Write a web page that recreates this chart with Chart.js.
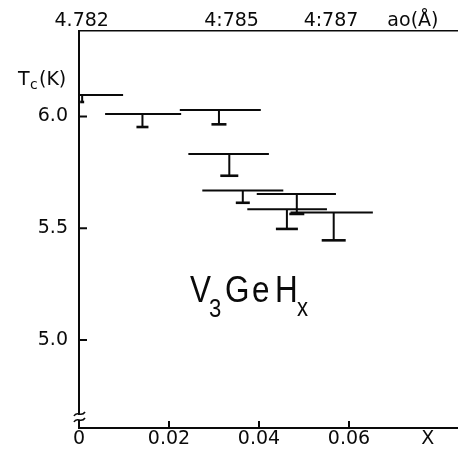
<!DOCTYPE html>
<html>
<head>
<meta charset="utf-8">
<script src="https://cdn.jsdelivr.net/npm/chart.js@4.4.1/dist/chart.umd.min.js"></script>
<style>
html,body{margin:0;padding:0;background:#fff;}
#c{display:block;}
</style>
</head>
<body>
<canvas id="c" width="458" height="450"></canvas>
<script>
// ---- data ----
const xLow    = [0.0000, 0.0058, 0.0224, 0.0243, 0.0274, 0.0395, 0.0374, 0.0470];
const xHigh   = [0.0098, 0.0227, 0.0404, 0.0422, 0.0454, 0.0571, 0.0551, 0.0653];
const xMid    = [0.0007, 0.0141, 0.0311, 0.0334, 0.0364, 0.0484, 0.0462, 0.0566];
const tcOnset = [6.096, 6.011, 6.029, 5.832, 5.669, 5.653, 5.585, 5.571];
const tcEnd   = [6.065, 5.953, 5.965, 5.735, 5.614, 5.564, 5.497, 5.446];

const xTickValues = [0, 0.02, 0.04, 0.06];
const xTickLabels = ['0', '0.02', '0.04', '0.06'];
const xAxisName = 'X';
const xAxisNameAt = 0.0775;
const yTickValues = [5.0, 5.5, 6.0];
const yTickLabels = ['5.0', '5.5', '6.0'];
const topTickValues = [0.0006, 0.0339, 0.0560, 0.0742];
const topTickLabels = ['4.782', '4:785', '4:787', 'ao(Å)'];

// ---- styles ----
const INK = '#0a0a0a';
const capHalf = [2, 6, 7.5, 9, 7, 7.5, 11, 12];
const X_MIN = 0, X_MAX = 0.08422;
const Y_MIN = 4.6063, Y_MAX = 6.3826;

const datasets = [];
for (let i = 0; i < xLow.length; i++) {
  datasets.push({
    data: [{x: xLow[i], y: tcOnset[i]}, {x: xHigh[i], y: tcOnset[i]}],
    showLine: true, borderColor: INK, borderWidth: 2, pointRadius: 0, xAxisID: 'x', yAxisID: 'y'
  });
  datasets.push({
    data: [{x: xMid[i], y: tcOnset[i]}, {x: xMid[i], y: tcEnd[i]}],
    showLine: true, borderColor: INK, borderWidth: 2, pointRadius: 0, xAxisID: 'x', yAxisID: 'y'
  });
}
datasets.push({
  data: xMid.map((v, i) => ({x: v, y: tcEnd[i]})),
  showLine: false, pointStyle: 'line', pointRadius: capHalf, pointHoverRadius: capHalf,
  pointBorderColor: INK, pointBorderWidth: 2.6, pointBackgroundColor: INK, xAxisID: 'x', yAxisID: 'y'
});

const tickFont = {family: 'DejaVu Sans', size: 19, lineHeight: 1};

function noSidePad(s) { s.paddingLeft = 0; s.paddingRight = 0; }

const decor = {
  id: 'decor',
  afterDraw(chart) {
    const ctx = chart.ctx;
    const xs = chart.scales.x, ys = chart.scales.y;
    const ca = chart.chartArea;
    ctx.save();
    ctx.strokeStyle = INK;
    ctx.lineWidth = 2;
    // inward tick marks
    xTickValues.forEach(v => {
      if (v === 0) return;
      const p = xs.getPixelForValue(v);
      ctx.beginPath(); ctx.moveTo(p, ca.bottom); ctx.lineTo(p, ca.bottom - 7); ctx.stroke();
    });
    yTickValues.forEach(v => {
      const p = ys.getPixelForValue(v);
      ctx.beginPath(); ctx.moveTo(ca.left, p); ctx.lineTo(ca.left + 8, p); ctx.stroke();
    });
    // axis break
    ctx.fillStyle = '#fff';
    ctx.fillRect(ca.left - 2, 415, 4, 5);
    ctx.lineWidth = 1.6;
    [414, 420].forEach(y => {
      ctx.beginPath();
      ctx.moveTo(ca.left - 5, y + 2);
      ctx.bezierCurveTo(ca.left - 2, y - 4, ca.left + 2, y + 4, ca.left + 6, y - 2);
      ctx.stroke();
    });
    // y axis title Tc(K)
    ctx.fillStyle = INK;
    ctx.textBaseline = 'alphabetic';
    ctx.textAlign = 'left';
    ctx.font = '19px "DejaVu Sans"';
    ctx.fillText('T', 18, 85);
    ctx.font = '14px "DejaVu Sans"';
    ctx.fillText('c', 30, 89);
    ctx.font = '19px "DejaVu Sans"';
    ctx.fillText('(K)', 39, 85);
    // compound label (condensed sans)
    const put = (txt, x, y, size) => {
      ctx.save();
      ctx.translate(x, y);
      ctx.scale(0.85, 1);
      ctx.font = size + 'px "Liberation Sans", Arial, sans-serif';
      ctx.fillText(txt, 0, 0);
      ctx.restore();
    };
    put('V', 190, 302, 37);
    put('G', 225, 302, 37);
    put('e', 252, 302, 37);
    put('H', 275, 302, 37);
    put('3', 209, 317, 26);
    put('x', 297, 316, 26);
    ctx.restore();
  }
};

new Chart(document.getElementById('c'), {
  type: 'scatter',
  data: {datasets},
  options: {
    responsive: false,
    animation: false,
    events: [],
    layout: {padding: 0, autoPadding: false},
    plugins: {legend: {display: false}, tooltip: {enabled: false}},
    scales: {
      x: {
        type: 'linear', position: 'bottom', min: X_MIN, max: X_MAX,
        afterFit(s) { s.height = 22; noSidePad(s); },
        afterBuildTicks(s) { s.ticks = xTickValues.concat([xAxisNameAt]).map(v => ({value: v})); },
        grid: {display: false, drawTicks: false},
        border: {display: true, color: INK, width: 2},
        ticks: {
          autoSkip: false, maxRotation: 0, padding: 1.5, color: INK, font: tickFont,
          callback(v, i) { return i < xTickLabels.length ? xTickLabels[i] : xAxisName; }
        }
      },
      x2: {
        type: 'linear', position: 'top', min: X_MIN, max: X_MAX,
        afterFit(s) { s.height = 31; noSidePad(s); },
        afterBuildTicks(s) { s.ticks = topTickValues.map(v => ({value: v})); },
        grid: {display: false, drawTicks: false},
        border: {display: true, color: INK, width: 1.6},
        ticks: {
          autoSkip: false, maxRotation: 0, padding: 0.5, color: INK, font: tickFont,
          callback(v, i) { return topTickLabels[i]; }
        }
      },
      y: {
        type: 'linear', position: 'left', min: Y_MIN, max: Y_MAX,
        afterFit(s) { s.width = 79; s.paddingTop = 0; s.paddingBottom = 0; },
        afterBuildTicks(s) { s.ticks = yTickValues.map(v => ({value: v})); },
        grid: {display: false, drawTicks: false},
        border: {display: true, color: INK, width: 2},
        ticks: {
          autoSkip: false, padding: 11, color: INK, font: tickFont,
          callback(v, i) { return yTickLabels[i]; }
        }
      }
    }
  },
  plugins: [decor]
});
</script>
</body>
</html>
